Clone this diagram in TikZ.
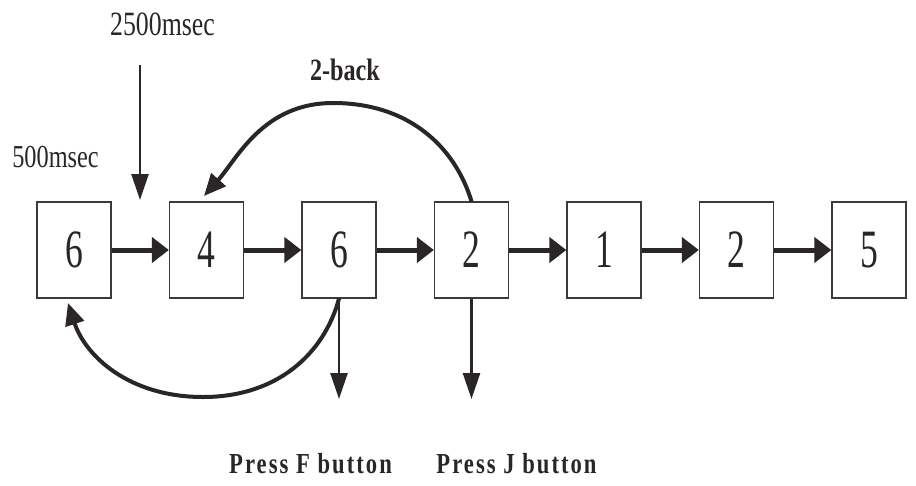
\documentclass[tikz,border=0pt]{standalone}
\usepackage{fontspec}
\setmainfont{Liberation Serif}
\newfontfamily\digitfont[FakeStretch=0.66]{Liberation Serif}
\newfontfamily\labfont[FakeStretch=0.76]{Liberation Serif}
\newfontfamily\boldlab[FakeStretch=0.78]{Liberation Serif Bold}
\newfontfamily\boldsp[FakeStretch=0.78, LetterSpace=7]{Liberation Serif Bold}
\usetikzlibrary{arrows.meta}
\definecolor{ink}{HTML}{2A2526}
\definecolor{boxline}{HTML}{3A3A3A}
\tikzset{
  stimbox/.style={draw=boxline, line width=1.3pt, minimum width=74pt, minimum height=96pt, inner sep=0pt, text=ink, font=\digitfont\fontsize{54}{54}\selectfont},
  seqarrow/.style={draw=ink, line width=5pt, -{Triangle[length=17pt,width=25pt]}},
  thinarrow/.style={draw=ink, line width=2.5pt, -{Triangle[length=26pt,width=17pt]}},
  curvearrow/.style={draw=ink, line width=4pt, -{Triangle[length=22pt,width=19pt]}},
  lab/.style={inner sep=0pt, anchor=base, text=ink},
}
\begin{document}
\begin{tikzpicture}[x=1pt, y=-1pt]
\useasboundingbox (0,0) rectangle (916,485);
% boxes
\node[stimbox] (b1) at (74,250) {6};
\node[stimbox] (b2) at (206.5,250) {4};
\node[stimbox] (b3) at (339,250) {6};
\node[stimbox] (b4) at (471.5,250) {2};
\node[stimbox] (b5) at (604,250) {1};
\node[stimbox] (b6) at (736.5,250) {2};
\node[stimbox] (b7) at (869,250) {5};
% sequence arrows
\draw[seqarrow] (b1.east) -- (b2.west);
\draw[seqarrow] (b2.east) -- (b3.west);
\draw[seqarrow] (b3.east) -- (b4.west);
\draw[seqarrow] (b4.east) -- (b5.west);
\draw[seqarrow] (b5.east) -- (b6.west);
\draw[seqarrow] (b6.east) -- (b7.west);
% labels
\node[lab, font=\labfont\fontsize{34}{34}\selectfont] (t2500) at (162.5,35) {2500msec};
\node[lab, font=\labfont\fontsize{32}{32}\selectfont] (t500) at (55.5,167) {500msec};
\node[lab, font=\boldlab\fontsize{31}{31}\selectfont] (tback) at (345,80) {2-back};
\node[lab, font=\boldsp\fontsize{29}{29}\selectfont] (tF) at (310.5,473) {Press F button};
\node[lab, font=\boldsp\fontsize{29}{29}\selectfont] (tJ) at (516.5,473) {Press J button};
% timing arrow
\coordinate (tstart) at (140,65);
\coordinate (tend) at (140,200);
\draw[thinarrow] (tstart) -- (tend);
% response arrows
\coordinate (fend) at (338,399);
\coordinate (jend) at (471.5,399);
\draw[thinarrow] (b3.south) -- (b3.south |- fend);
\draw[thinarrow] (b4.south) -- (b4.south |- jend);
% 2-back curves
\coordinate (peakU) at (333,103);
\coordinate (tipU) at (204,196);
\draw[curvearrow] (b4.north) .. controls (455,147) and (409,103) .. (peakU)
  .. controls (263,103) and (237,159) .. (tipU);
\coordinate (botL) at (203,397);
\coordinate (tipL) at (68,303);
\draw[curvearrow] (b3.south) .. controls (324,354) and (277,397) .. (botL)
  .. controls (128,397) and (85,355) .. (tipL);
\end{tikzpicture}
\end{document}
